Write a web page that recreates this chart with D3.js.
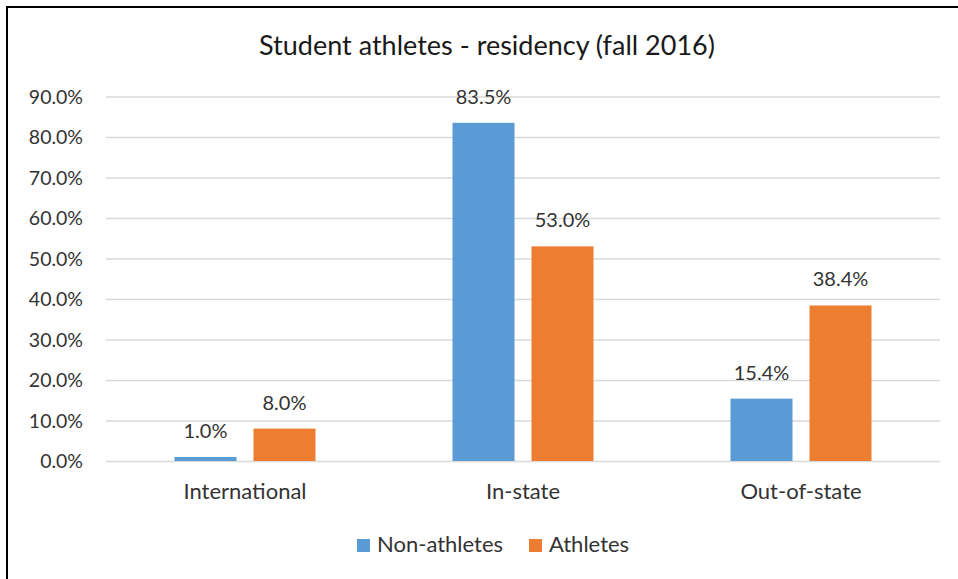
<!DOCTYPE html>
<html><head><meta charset="utf-8">
<script src="https://cdn.jsdelivr.net/npm/d3@7"></script>
<style>html,body{margin:0;padding:0;background:#fff;overflow:hidden}</style>
</head><body>
<script>
const categories = ["International", "In-state", "Out-of-state"];
const seriesNames = ["Non-athletes", "Athletes"];
const nonAthletes = [1.0, 83.5, 15.4];
const athletes = [8.0, 53.0, 38.4];
const yTicks = [0, 10, 20, 30, 40, 50, 60, 70, 80, 90];
const colors = ["#5B9BD5", "#ED7D31"];
const title = "Student athletes - residency (fall 2016)";

const W = 958, H = 579;
const font = "Lato, 'Open Sans', sans-serif";
const textColor = "#333333";
const svg = d3.select("body").append("svg").attr("width", W).attr("height", H);
svg.append("rect").attr("width", W).attr("height", H).attr("fill", "#fff");
// border
svg.append("path").attr("d", "M7,579 V7 H958").attr("fill", "none").attr("stroke", "#000").attr("stroke-width", 2);

const m = {left: 106, right: 940, top: 96.5, bottom: 461};
const x = d3.scaleBand().domain(categories).range([m.left, m.right]);
const y = d3.scaleLinear().domain([0, 90]).range([m.bottom, m.top]);

svg.append("text").attr("x", 487).attr("y", 55).attr("text-anchor", "middle")
  .attr("font-family", font).attr("font-size", 27).attr("fill", "#1a1a1a").text(title);

const yAxis = d3.axisLeft(y).tickValues(yTicks).tickSize(-(m.right - m.left)).tickPadding(23)
  .tickFormat(d => d.toFixed(1) + "%");
const ga = svg.append("g").attr("transform", `translate(${m.left},0)`).call(yAxis);
ga.select(".domain").remove();
ga.selectAll(".tick line").attr("stroke", "#D9D9D9").attr("stroke-width", 1.3);
ga.selectAll(".tick text").attr("font-family", font).attr("font-size", 19.5).attr("fill", textColor).attr("dy", "0.35em");

const barW = 62, gap = 17;
const data = categories.map((c, i) => ({c, vals: [nonAthletes[i], athletes[i]]}));
data.forEach(d => {
  const cx = x(d.c) + x.bandwidth() / 2;
  d.vals.forEach((v, s) => {
    const bx = s === 0 ? cx - gap / 2 - barW : cx + gap / 2;
    svg.append("rect").attr("x", bx).attr("y", y(v)).attr("width", barW).attr("height", y(0) - y(v)).attr("fill", colors[s]);
    svg.append("text").attr("x", bx + barW / 2).attr("y", y(v) - 19).attr("text-anchor", "middle")
      .attr("font-family", font).attr("font-size", 20).attr("fill", textColor).text(v.toFixed(1) + "%");
  });
});

const xAxis = d3.axisBottom(x).tickSize(0).tickPadding(22);
const gx = svg.append("g").attr("transform", `translate(0,${m.bottom})`).call(xAxis);
gx.select(".domain").remove();
gx.selectAll(".tick text").attr("font-family", font).attr("font-size", 22).attr("fill", textColor);

// legend
const legX = [357, 529];
seriesNames.forEach((n, i) => {
  svg.append("rect").attr("x", legX[i]).attr("y", 539).attr("width", 13).attr("height", 13).attr("fill", colors[i]);
  svg.append("text").attr("x", legX[i] + 20).attr("y", 552).attr("font-family", font).attr("font-size", 22)
    .attr("fill", textColor).text(n);
});
</script>
</body></html>
